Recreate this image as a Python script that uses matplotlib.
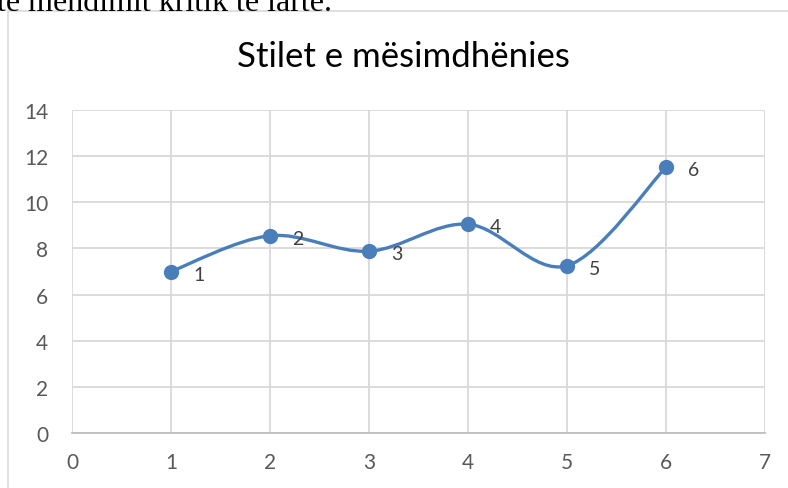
import numpy as np
import matplotlib.pyplot as plt
from matplotlib.path import Path
from matplotlib.patches import PathPatch, Rectangle

x = np.array([1, 2, 3, 4, 5, 6])
y = np.array([7.0, 8.55, 7.88, 9.05, 7.25, 11.52])
labels = ['1', '2', '3', '4', '5', '6']
title = 'Stilet e mësimdhënies'
above = 'të mendimit kritik të lartë.'

blue = '#4a7ebb'
grid = '#d9d9d9'
tick = '#595959'

fig = plt.figure(figsize=(7.88, 4.89), dpi=100)
fig.patch.set_facecolor('white')

# bit of the document text above the chart, cut off by the crop
fig.text(-0.004, 1 - 11 / 489, above, family='Liberation Serif', fontsize=23,
         va='baseline', ha='left', color='black')

# chart border
fig.patches.append(Rectangle((8 / 788, -0.1), 1.2, 1 - 12 / 489 + 0.1,
                             transform=fig.transFigure, fill=False,
                             edgecolor=grid, lw=1.2))

ax = fig.add_axes([72 / 788, 1 - 434 / 489, 693 / 788, 323 / 489])
ax.set_xlim(0, 7)
ax.set_ylim(0, 14)
ax.set_xticks(range(0, 8))
ax.set_yticks(range(0, 15, 2))
ax.grid(True, color=grid, lw=1.3)
ax.set_axisbelow(True)
for s in ['top', 'right', 'left']:
    ax.spines[s].set_visible(False)
ax.spines['bottom'].set_color('#bfbfbf')
ax.spines['bottom'].set_linewidth(1.3)
ax.tick_params(length=0, colors=tick, labelsize=15)
ax.tick_params(axis='y', pad=17)
ax.tick_params(axis='x', pad=14)
for t in ax.get_xticklabels() + ax.get_yticklabels():
    t.set_family('Lato')

# excel style smoothed line
px = np.concatenate([[x[0]], x, [x[-1]]])
py = np.concatenate([[y[0]], y, [y[-1]]])
verts = [(x[0], y[0])]
codes = [Path.MOVETO]
for i in range(1, len(px) - 2):
    c1 = (px[i] + (px[i + 1] - px[i - 1]) / 6, py[i] + (py[i + 1] - py[i - 1]) / 6)
    c2 = (px[i + 1] - (px[i + 2] - px[i]) / 6, py[i + 1] - (py[i + 2] - py[i]) / 6)
    verts += [c1, c2, (px[i + 1], py[i + 1])]
    codes += [Path.CURVE4] * 3
ax.add_patch(PathPatch(Path(verts, codes), fill=False, edgecolor=blue, lw=2.4,
                       capstyle='round', zorder=3))
ax.plot(x, y, 'o', color=blue, markersize=10, zorder=4)

for xi, yi, lab in zip(x, y, labels):
    ax.annotate(lab, (xi, yi), xytext=(20, -2), textcoords='offset points',
                ha='center', va='center', fontsize=14, color='#404040',
                family='Lato')

fig.text(403 / 788, 1 - 57 / 489, title, ha='center', va='center',
         fontsize=25, family='Lato', color='black')

fig.savefig('out.png', dpi=100)
